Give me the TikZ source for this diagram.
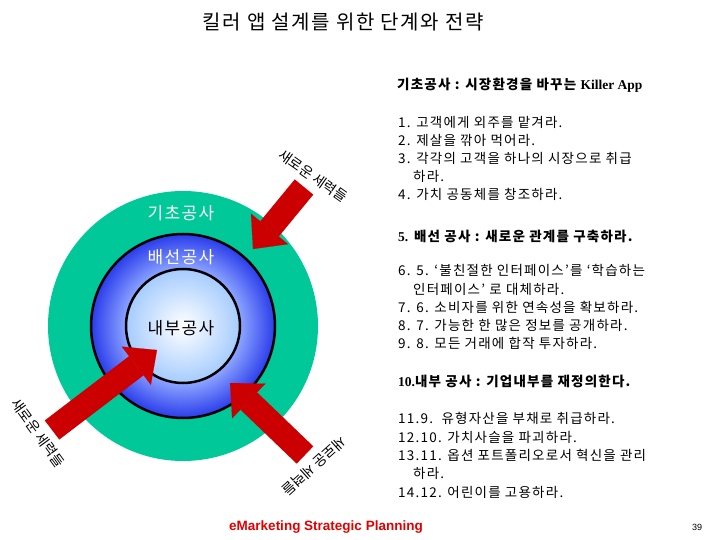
\documentclass[tikz,border=0pt]{standalone}
\usepackage{fontspec}
\setmainfont{Noto Sans CJK KR}
\newfontfamily\timesfont{Liberation Serif}
\newfontfamily\arialfont{Liberation Sans}
\usetikzlibrary{arrows.meta}
\definecolor{cgreen}{HTML}{00C898}
\definecolor{cred}{HTML}{CC0000}
\definecolor{cfoot}{HTML}{E00000}
\definecolor{cpale}{HTML}{A6CCFF}
\definecolor{cmid}{HTML}{8CA4FF}
\definecolor{cdeep}{HTML}{2A3CEB}
\pgfdeclareradialshading{layershade}{\pgfpointorigin}{color(0bp)=(white); color(15.4bp)=(cpale); color(15.6bp)=(cmid); color(25bp)=(cdeep); color(50bp)=(cdeep)}
\tikzset{
  every picture/.style={x=1pt, y=-1pt},
  item/.style={anchor=west, inner sep=0pt, font=\fontsize{13.5}{16}\selectfont\addfontfeatures{LetterSpace=9}},
  head/.style={anchor=west, inner sep=0pt, font=\fontsize{13.5}{16}\selectfont\bfseries\addfontfeatures{LetterSpace=9}},
  layer/.style={font=\fontsize{17}{20}\selectfont\addfontfeatures{LetterSpace=8}, inner sep=0pt},
  force/.style={font=\fontsize{14}{16}\selectfont, inner sep=0pt},
  wall/.style={draw=black, line width=2.5pt},
  bigarrow/.style={draw=cred, line width=24pt, -{Triangle[width=48pt, length=26pt, line width=0.1pt]}},
}
\begin{document}
\begin{tikzpicture}
  \useasboundingbox (0,0) rectangle (720,540);
  % title
  \node[font=\fontsize{20}{24}\selectfont\addfontfeatures{LetterSpace=8}, inner sep=0pt] (title) at (343,22) {킬러 앱 설계를 위한 단계와 전략};
  % rings
  \coordinate (c) at (183,326);
  \fill[cgreen] (c) circle[radius=135pt];
  \shade[shading=layershade] (c) circle[radius=92pt];
  \draw[wall] (c) circle[radius=92pt];
  \draw[wall] (c) circle[radius=57pt];
  \node[layer, text=white] (base) at (181,213) {기초공사};
  \node[layer, text=white] (wire) at (181,257) {배선공사};
  \node[layer] (core) at (181,328) {내부공사};
  % forces
  \coordinate (t1) at (304,187); \coordinate (h1) at (253,249);
  \coordinate (t2) at (52,430);  \coordinate (h2) at (157,350);
  \coordinate (t3) at (305,455); \coordinate (h3) at (230,383);
  \draw[bigarrow] (t1) -- (h1);
  \draw[bigarrow] (t2) -- (h2);
  \draw[bigarrow] (t3) -- (h3);
  \node[force, rotate=-35] (f1) at (313,176) {새로운 세력들};
  \node[force, rotate=-54] (f2) at (38,433) {새로운 세력들};
  \node[force, rotate=-138] (f3) at (314,466) {새로운 세력들};
  % steps
  \node[head] (s1) at (397,85) {기초공사 : 시장환경을 바꾸는 {\timesfont Killer App}};
  \foreach \y/\x/\t in {122/398/{1. 고객에게 외주를 맡겨라.}, 140/398/{2. 제살을 깎아 먹어라.},
      158/398/{3. 각각의 고객을 하나의 시장으로 취급}, 176/413/{하라.}, 194/398/{4. 가치 공동체를 창조하라.}}
    \node[item] (a\y) at (\x,\y) {\t};
  \node[head] (s2) at (398,236) {{\timesfont 5.} 배선 공사 : 새로운 관계를 구축하라.};
  \foreach \y/\x/\t in {270/398/{6. 5. ‘불친절한 인터페이스’를 ‘학습하는}, 289/413/{인터페이스’ 로 대체하라.},
      307/398/{7. 6. 소비자를 위한 연속성을 확보하라.}, 325/398/{8. 7. 가능한 한 많은 정보를 공개하라.},
      343/398/{9. 8. 모든 거래에 합작 투자하라.}}
    \node[item] (b\y) at (\x,\y) {\t};
  \node[head] (s3) at (398,381) {{\timesfont 10.}내부 공사 : 기업내부를 재정의한다.};
  \foreach \y/\x/\t in {418/398/{11.9.\ \ 유형자산을 부채로 취급하라.}, 437/398/{12.10. 가치사슬을 파괴하라.},
      455/398/{13.11. 옵션 포트폴리오로서 혁신을 관리}, 473/413/{하라.}, 492/398/{14.12. 어린이를 고용하라.}}
    \node[item] (d\y) at (\x,\y) {\t};
  % footer
  \node[font=\arialfont\fontsize{13.5}{16}\selectfont\bfseries, text=cfoot, inner sep=0pt] (foot) at (326,527) {eMarketing Strategic Planning};
  \node[font=\arialfont\fontsize{9}{11}\selectfont, inner sep=0pt] (page) at (697,527) {39};
\end{tikzpicture}
\end{document}
